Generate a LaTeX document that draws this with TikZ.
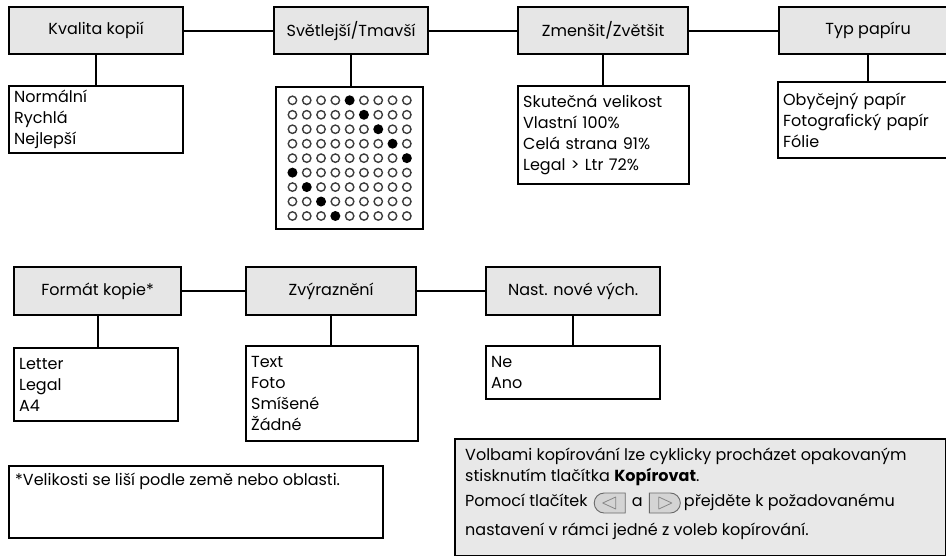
\documentclass[tikz,border=0pt]{standalone}
\usepackage{fontspec}
\setmainfont{Poppins}
\definecolor{panel}{RGB}{230, 230, 230}
\definecolor{tipgray}{RGB}{232, 232, 232}
\definecolor{btnfill}{RGB}{212, 212, 212}
\definecolor{btnedge}{RGB}{105, 105, 105}
\definecolor{ring}{RGB}{60, 60, 60}
\usetikzlibrary{calc}
\usetikzlibrary{positioning}
\usetikzlibrary{shapes.misc}
\tikzset{
  every node/.style={font=\fontsize{16}{21}\selectfont},
  menu/.style={draw, fill=panel, line width=2.3pt, anchor=north west,
    minimum height=47pt, inner sep=0},
  optlist/.style={draw, line width=2.3pt, anchor=north west, align=left,
    inner xsep=5pt, inner ysep=0},
  link/.style={line width=2.3pt},
  dotring/.style={draw=ring, line width=1.4pt},
  tiptext/.style={anchor=west, inner sep=0, text height=11pt, text depth=3.5pt},
  button/.style={rounded rectangle, draw=btnedge, fill=btnfill, line width=0.9pt,
    minimum width=31pt, minimum height=20pt, inner sep=0},
  arrowhead/.style={draw=btnedge!80, line width=0.8pt, line join=round}
}

\begin{document}
\begin{tikzpicture}[x=1pt, y=-1pt]
      \useasboundingbox (0,0) rectangle (946,555);
      \clip (0,0) rectangle (946,555);

      \node[menu, minimum width=174pt] (quality) at (8,6) {Kvalita kopií};
      \node[menu, minimum width=154pt] (lighter) at (273,6) {Světlejší/Tmavší};
      \node[menu, minimum width=170pt] (resize) at (517,6) {Zmenšit/Zvětšit};
      \node[menu, minimum width=178pt] (paper) at (778,6) {Typ papíru};

      \node[optlist, text width=164pt, minimum height=67pt] (qualitylist)
            at (8,85) {Normální\\Rychlá\\Nejlepší};
      \node[draw, line width=2.3pt, anchor=north west, minimum width=147pt,
            minimum height=142pt] (darkgrid) at (275,86) {};
      \node[optlist, text width=161pt, minimum height=98pt] (resizelist)
            at (517,85) {Skutečná velikost\\Vlastní 100\%\\Celá strana 91\%\\Legal > Ltr 72\%};
      \node[optlist, text width=170pt, minimum height=76pt] (paperlist)
            at (777,81) {Obyčejný papír\\Fotografický papír\\Fólie};

      \node[menu, minimum width=167pt, minimum height=48pt] (format) at (13,266) {Formát kopie*};
      \node[menu, minimum width=170pt, minimum height=48pt] (enhance) at (245,266) {Zvýraznění};
      \node[menu, minimum width=174pt, minimum height=48pt] (reset) at (485,266) {Nast. nové vých.};

      \node[optlist, text width=154pt, minimum height=73pt] (formatlist)
            at (13,347) {Letter\\Legal\\A4};
      \node[optlist, text width=162pt, minimum height=95pt] (enhancelist)
            at (245,345) {Text\\Foto\\Smíšené\\Žádné};
      \node[optlist, text width=164pt, minimum height=53pt] (resetlist)
            at (485,345) {Ne\\Ano};

      \draw[link] (quality) -- (lighter);
      \draw[link] (lighter) -- (resize);
      \draw[link] (resize) -- (paper);
      \draw[link] (format) -- (enhance);
      \draw[link] (enhance) -- (reset);
      \draw[link] (quality.south) -- (quality.south |- qualitylist.north);
      \draw[link] (lighter.south) -- (lighter.south |- darkgrid.north);
      \draw[link] (resize.south) -- (resize.south |- resizelist.north);
      \draw[link] (paper.south) -- (paper.south |- paperlist.north);
      \draw[link] (format.south) -- (format.south |- formatlist.north);
      \draw[link] (enhance.south) -- (enhance.south |- enhancelist.north);
      \draw[link] (reset.south) -- (reset.south |- resetlist.north);

      \begin{scope}[shift={(darkgrid.center)}]
        \foreach \r in {0,...,8}
          \foreach \c in {0,...,8} {
            \pgfmathtruncatemacro{\hit}{mod(\r+4,9)==\c}
            \ifnum\hit=1
              \fill (\c*14.3-57.2, \r*14.46-57.84) circle (5pt);
            \else
              \draw[dotring] (\c*14.3-57.2, \r*14.46-57.84) circle (4.2pt);
            \fi
          }
      \end{scope}

      \node[draw, line width=2.2pt, anchor=north west, minimum width=374pt,
            minimum height=72pt] (note) at (8,465) {};
      \node[tiptext] (notetext) at ([xshift=7pt, yshift=-17pt]note.north west)
            {*Velikosti se liší podle země nebo oblasti.};

      \node[draw, fill=tipgray, line width=1.6pt, anchor=north west,
            minimum width=491pt, minimum height=117pt] (tip) at (454,438) {};
      \node[tiptext] (tipone) at ([xshift=11pt, yshift=-19pt]tip.north west)
            {Volbami kopírování lze cyklicky procházet opakovaným};
      \node[tiptext] (tiptwo) at ([yshift=-21pt]tipone.west)
            {stisknutím tlačítka \textbf{Kopírovat}.};
      \node[tiptext] (pomoc) at ([yshift=-25pt]tiptwo.west) {Pomocí tlačítek};
      \node[button, rounded rectangle right arc=none, right=6pt of pomoc] (btnleft) {};
      \node[tiptext, right=6pt of btnleft] (andword) {a};
      \node[button, rounded rectangle left arc=none, right=6pt of andword] (btnright) {};
      \node[tiptext, right=3pt of btnright] (goto) {přejděte k požadovanému};
      \node[tiptext] (tipfour) at ([yshift=-29pt]pomoc.west)
            {nastavení v rámci jedné z voleb kopírování.};

      \draw[arrowhead] ([xshift=-7pt]btnleft.center) -- ++(13pt,6pt) -- ++(0,-12pt) -- cycle;
      \draw[arrowhead] ([xshift=7pt]btnright.center) -- ++(-13pt,6pt) -- ++(0,-12pt) -- cycle;
\end{tikzpicture}
\end{document}
